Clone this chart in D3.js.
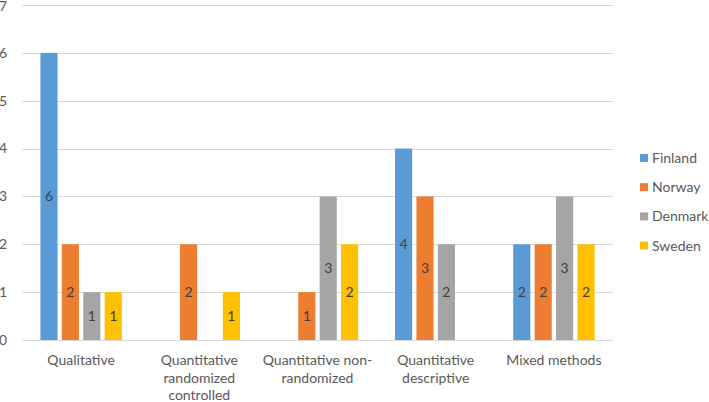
<!DOCTYPE html>
<html><head><meta charset="utf-8">
<script src="https://cdn.jsdelivr.net/npm/d3@7"></script>
<style>body{margin:0;background:#fff;} svg{display:block;font-family:Lato, "Open Sans", sans-serif;}</style>
</head><body><svg id="c" width="709" height="402"></svg>
<script>
const categories = ["Qualitative", "Quantitative randomized controlled", "Quantitative non-randomized", "Quantitative descriptive", "Mixed methods"];
const categoryLines = [["Qualitative"], ["Quantitative", "randomized", "controlled"], ["Quantitative non-", "randomized"], ["Quantitative", "descriptive"], ["Mixed methods"]];
const seriesNames = ["Finland", "Norway", "Denmark", "Sweden"];
const finland = [6, 0, 0, 4, 2];
const norway = [2, 2, 1, 3, 2];
const denmark = [1, 0, 3, 2, 3];
const sweden = [1, 1, 2, 0, 2];
const yTicks = [0, 1, 2, 3, 4, 5, 6, 7];
const colors = ["#5B9BD5", "#ED7D31", "#A5A5A5", "#FFC000"];

(function() {
const values = [finland, norway, denmark, sweden];
const svg = d3.select("#c");
const mLeft = 22, mRight = 613, mTop = 5, mBottom = 340;
const fs = 14;

const x0 = d3.scaleBand().domain(categories).range([mLeft, mRight]).paddingInner(0).paddingOuter(0);
const x1 = d3.scaleBand().domain(seriesNames).range([0, x0.bandwidth()]).paddingInner(0.2).paddingOuter(0.86);
const y = d3.scaleLinear().domain([0, 7]).range([mBottom, mTop]);

svg.append("g").selectAll("line").data(yTicks).join("line")
  .attr("x1", mLeft).attr("x2", mRight)
  .attr("y1", d => Math.round(y(d)) + 0.5).attr("y2", d => Math.round(y(d)) + 0.5)
  .attr("stroke", "#D9D9D9").attr("stroke-width", 1);

svg.append("g").selectAll("text").data(yTicks).join("text")
  .attr("x", 7).attr("y", d => Math.max(y(d), 6)).attr("dy", "0.35em")
  .attr("text-anchor", "end").attr("font-size", fs).attr("fill", "#595959")
  .text(d => d);

const groups = svg.append("g").selectAll("g").data(categories).join("g")
  .attr("transform", c => `translate(${x0(c)},0)`);
groups.each(function(c, ci) {
  const g = d3.select(this);
  seriesNames.forEach((s, si) => {
    const v = values[si][ci];
    if (v <= 0) return;
    g.append("rect").attr("x", x1(s)).attr("width", x1.bandwidth())
      .attr("y", y(v)).attr("height", y(0) - y(v)).attr("fill", colors[si]);
    g.append("text").attr("x", x1(s) + x1.bandwidth() / 2).attr("y", (y(v) + y(0)) / 2)
      .attr("dy", "0.35em").attr("text-anchor", "middle").attr("font-size", fs).attr("fill", "#404040")
      .text(v);
  });
});

svg.append("g").selectAll("text").data(categories).join("text")
  .attr("text-anchor", "middle").attr("font-size", fs).attr("fill", "#595959")
  .each(function(c, i) {
    const t = d3.select(this);
    categoryLines[i].forEach((ln, li) => {
      t.append("tspan").attr("x", x0(c) + x0.bandwidth() / 2).attr("y", 365 + li * 17.5).text(ln);
    });
  });

const lg = svg.append("g").selectAll("g").data(seriesNames).join("g")
  .attr("transform", (d, i) => `translate(640,${158 + i * 29.2})`);
lg.append("rect").attr("x", 0).attr("y", -4).attr("width", 8).attr("height", 8).attr("fill", (d, i) => colors[i]);
lg.append("text").attr("x", 12).attr("dy", "0.35em").attr("font-size", fs).attr("fill", "#595959").text(d => d);
})();
</script></body></html>
